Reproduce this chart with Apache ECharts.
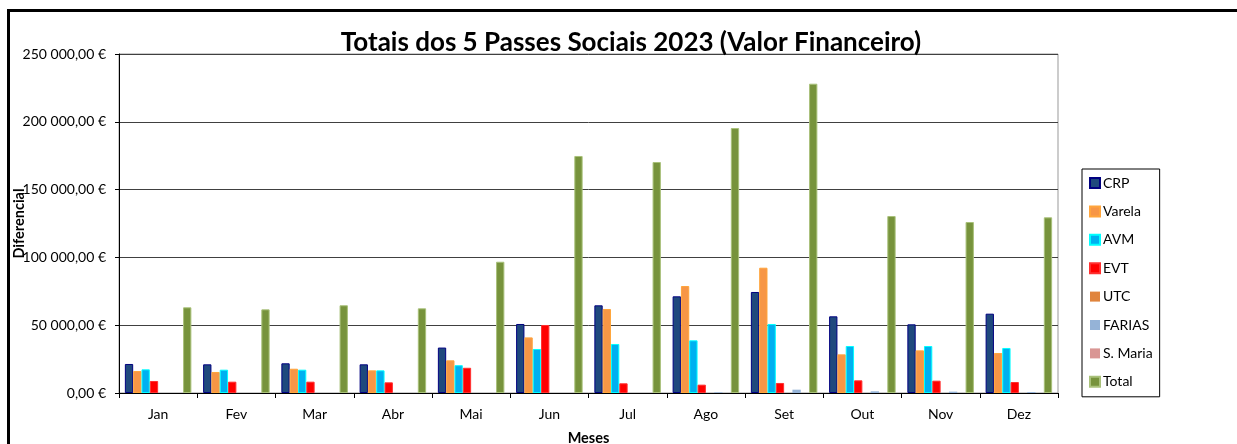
<!DOCTYPE html>
<html>
<head>
<meta charset="utf-8">
<script src="https://cdn.jsdelivr.net/npm/echarts@6/dist/echarts.min.js"></script>
<style>
html,body{margin:0;padding:0;background:#fff;}
#chart{width:1237px;height:444px;}
</style>
</head>
<body>
<div id="chart"></div>
<script>
const months = ['Jan','Fev','Mar','Abr','Mai','Jun','Jul','Ago','Set','Out','Nov','Dez'];
const crp    = [21400, 21150, 21900, 21150, 33500, 50900, 64650, 71300, 74500, 56550, 50650, 58500];
const varela = [16200, 15500, 17900, 16700, 24100, 41000, 61950, 78900, 92400, 28500, 31450, 29500];
const avm    = [17450, 17200, 17200, 16700, 20500, 32450, 36150, 38850, 50900, 34650, 34650, 33200];
const evt    = [8850, 8350, 8350, 7870, 18600, 50150, 7150, 6150, 7400, 9350, 9100, 8100];
const utc    = [0, 0, 0, 0, 0, 0, 0, 0, 0, 0, 0, 0];
const farias = [0, 0, 0, 0, 0, 0, 0, 500, 2450, 1250, 1000, 700];
const smaria = [0, 0, 0, 0, 0, 0, 0, 0, 0, 0, 0, 0];
const total  = [63200, 61700, 64700, 62450, 96800, 174800, 170350, 195400, 228100, 130500, 126100, 129550];
const yTicks = [0, 50000, 100000, 150000, 200000, 250000];

const FONT = 'Lato';

function fmtEuro(v){
  const s = Math.round(v).toString().replace(/\B(?=(\d{3})+(?!\d))/g, ' ');
  return s + ',00 €';
}

function bar(name, data, color, border){
  return {
    name: name, type: 'bar', data: data,
    barGap: '0%', barCategoryGap: '15%',
    itemStyle: { color: color, borderColor: border || color, borderWidth: border ? 1 : 0 },
    emphasis: { disabled: true }
  };
}

const chart = echarts.init(document.getElementById('chart'), null, { renderer: 'canvas' });
chart.setOption({
  animation: false,
  backgroundColor: '#ffffff',
  textStyle: { fontFamily: FONT },
  title: {
    text: 'Totais dos 5 Passes Sociais 2023 (Valor Financeiro)',
    left: 626, textAlign: 'center', top: 25,
    textStyle: { fontFamily: FONT, fontWeight: 'bold', fontSize: 26, color: '#000' }
  },
  graphic: [{
    type: 'rect', silent: true, z: 100,
    shape: { x: 8.5, y: 10.5, width: 1300, height: 500 },
    style: { fill: 'none', stroke: '#000', lineWidth: 3 }
  }],
  legend: {
    orient: 'vertical', left: 1082, top: 169,
    icon: 'rect',
    itemWidth: 10, itemHeight: 10, itemGap: 14.4,
    padding: [7, 7, 8, 7],
    borderColor: '#000', borderWidth: 1,
    textStyle: { fontFamily: FONT, fontSize: 14, color: '#000', padding: [0, 0, 0, -2] },
    data: ['CRP','Varela','AVM','EVT','UTC','FARIAS','S. Maria','Total']
  },
  grid: {
    left: 119, right: 179, top: 54, bottom: 51,
    outerBoundsMode: 'none', containLabel: false,
    show: true, borderColor: '#999', borderWidth: 1, backgroundColor: '#fff'
  },
  xAxis: {
    type: 'category', data: months,
    name: 'Meses', nameLocation: 'middle', nameGap: 38, nameMoveOverlap: false,
    nameTextStyle: { fontFamily: FONT, fontWeight: 'bold', fontSize: 14.5, color: '#000' },
    axisLine: { lineStyle: { color: '#000', width: 1 } },
    axisTick: { show: true, length: 5, lineStyle: { color: '#000' } },
    axisLabel: { fontFamily: FONT, fontSize: 14, color: '#000', margin: 14 }
  },
  yAxis: {
    type: 'value', min: 0, max: 250000, interval: 50000,
    name: 'Diferencial', nameLocation: 'middle', nameGap: 92, nameRotate: 90, nameMoveOverlap: false,
    nameTextStyle: { fontFamily: FONT, fontWeight: 'bold', fontSize: 14.5, color: '#000' },
    axisLine: { show: true, lineStyle: { color: '#000', width: 1 } },
    axisTick: { show: true, length: 4, lineStyle: { color: '#000' } },
    axisLabel: {
      fontFamily: FONT, fontSize: 14, color: '#000', margin: 13,
      formatter: function(v){ return yTicks.indexOf(v) >= 0 ? fmtEuro(v) : ''; }
    },
    splitLine: { show: true, lineStyle: { color: '#404040', width: 1 } }
  },
  series: [
    bar('CRP', crp, '#1F497D', '#000080'),
    bar('Varela', varela, '#F79646', '#FFA53C'),
    bar('AVM', avm, '#00B0F0', '#00FFFF'),
    bar('EVT', evt, '#FF0000', '#FF3030'),
    bar('UTC', utc, '#E0843D'),
    bar('FARIAS', farias, '#95B3D7'),
    bar('S. Maria', smaria, '#D99694'),
    bar('Total', total, '#77933C', '#A9C17A')
  ]
});
</script>
</body>
</html>
